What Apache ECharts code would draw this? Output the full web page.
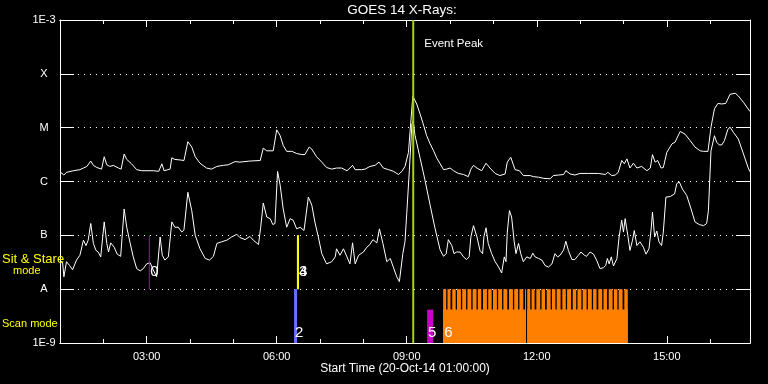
<!DOCTYPE html>
<html><head><meta charset="utf-8">
<script src="https://cdn.jsdelivr.net/npm/echarts@6/dist/echarts.min.js"></script>
<style>html,body{margin:0;padding:0;background:#000}#c{width:768px;height:384px}</style>
</head><body><div id="c"></div>
<script>
// ---- data (x in hours of 20-Oct-14, y in log10 flux W/m^2) ----
const yTickLabels = {'-3':'1E-3','-4':'X','-5':'M','-6':'C','-7':'B','-8':'A','-9':'1E-9'};
const xMajorHours = [3,6,9,12,15];
const xMinorHours = [2,4,5,7,8,10,11,13,14,16];
const xStartHour = 1, xEndHour = 16.92;

const longChannel = [[1.00,-5.82],[1.09,-5.88],[1.15,-5.83],[1.31,-5.80],[1.46,-5.78],[1.54,-5.75],[1.62,-5.72],[1.71,-5.62],[1.77,-5.70],[1.85,-5.74],[1.96,-5.77],[2.02,-5.54],[2.08,-5.69],[2.15,-5.72],[2.23,-5.70],[2.35,-5.75],[2.41,-5.77],[2.48,-5.49],[2.54,-5.59],[2.65,-5.67],[2.77,-5.78],[2.88,-5.80],[3.15,-5.80],[3.28,-5.81],[3.35,-5.67],[3.40,-5.80],[3.54,-5.77],[3.58,-5.56],[3.65,-5.59],[3.77,-5.60],[3.86,-5.61],[3.95,-5.26],[4.04,-5.36],[4.12,-5.54],[4.23,-5.66],[4.38,-5.75],[4.50,-5.77],[4.62,-5.72],[4.77,-5.70],[4.88,-5.69],
[5.04,-5.63],[5.15,-5.64],[5.38,-5.62],[5.62,-5.61],[5.69,-5.38],[5.77,-5.43],[5.92,-5.43],[6.00,-5.04],[6.08,-5.15],[6.15,-5.33],[6.23,-5.44],[6.35,-5.44],[6.46,-5.48],[6.58,-5.50],[6.65,-5.50],[6.75,-5.36],[6.81,-5.40],[6.92,-5.54],[7.04,-5.64],[7.15,-5.74],[7.27,-5.77],[7.38,-5.75],[7.50,-5.75],[7.62,-5.80],[7.69,-5.75],[7.75,-5.70],[7.81,-5.78],[7.96,-5.78],[8.04,-5.77],[8.15,-5.72],[8.27,-5.70],[8.36,-5.64],[8.46,-5.75],[8.58,-5.78],[8.69,-5.81],[8.81,-5.87],[8.89,-5.81],
[8.96,-5.72],[9.04,-5.46],[9.14,-4.41],[9.23,-4.56],[9.31,-4.75],[9.38,-4.93],[9.46,-5.15],[9.54,-5.30],[9.62,-5.43],[9.69,-5.56],[9.77,-5.67],[9.85,-5.78],[9.92,-5.77],[10.00,-5.75],[10.08,-5.80],[10.19,-5.85],[10.31,-5.87],[10.42,-5.91],[10.48,-5.77],[10.54,-5.70],[10.62,-5.75],[10.73,-5.80],[10.83,-5.66],[10.92,-5.75],[11.04,-5.85],[11.15,-5.89],[11.27,-5.86],[11.32,-5.64],[11.40,-5.55],[11.50,-5.78],[11.60,-5.80],[11.69,-5.89],[11.85,-5.89],[11.92,-5.91],[12.04,-5.92],[12.15,-5.94],[12.31,-5.95],[12.38,-5.89],[12.50,-5.88],[12.62,-5.87],[12.67,-5.80],[12.77,-5.86],[12.88,-5.88],
[13.00,-5.85],[13.19,-5.85],[13.42,-5.85],[13.58,-5.87],[13.64,-5.83],[13.73,-5.89],[13.81,-5.88],[13.88,-5.83],[13.96,-5.61],[14.02,-5.67],[14.08,-5.58],[14.15,-5.75],[14.23,-5.66],[14.31,-5.75],[14.42,-5.72],[14.54,-5.80],[14.62,-5.75],[14.67,-5.50],[14.73,-5.64],[14.79,-5.61],[14.87,-5.75],[14.92,-5.74],[15.00,-5.46],[15.12,-5.30],[15.19,-5.27],[15.31,-5.07],[15.42,-5.12],[15.54,-5.24],[15.65,-5.36],[15.77,-5.43],[15.85,-5.44],[15.95,-5.44],[16.02,-4.99],[16.10,-4.65],[16.18,-4.55],[16.27,-4.56],[16.36,-4.55],[16.46,-4.38],[16.58,-4.36],[16.65,-4.41],[16.77,-4.53],[16.92,-4.70]];

const shortChannel = [[1.00,-7.46],[1.06,-7.51],[1.09,-7.77],[1.15,-7.49],[1.22,-7.56],[1.29,-7.64],[1.38,-7.46],[1.46,-7.37],[1.54,-7.09],[1.60,-7.19],[1.65,-7.09],[1.71,-6.78],[1.77,-7.15],[1.83,-7.28],[1.88,-7.31],[1.94,-7.40],[2.02,-6.75],[2.08,-7.15],[2.12,-7.31],[2.17,-7.14],[2.25,-7.22],[2.32,-7.35],[2.40,-7.39],[2.48,-6.51],[2.54,-6.85],[2.62,-7.15],[2.69,-7.40],[2.77,-7.62],[2.85,-7.66],[2.92,-7.62],[3.00,-7.53],[3.08,-7.51],[3.15,-7.64],[3.23,-7.77],[3.31,-7.03],[3.36,-7.37],[3.42,-7.46],[3.50,-7.40],[3.58,-6.75],[3.65,-6.85],[3.73,-6.85],[3.81,-6.94],[3.86,-6.90],[3.95,-6.20],[4.04,-6.54],[4.12,-7.00],[4.23,-7.25],[4.35,-7.43],[4.45,-7.46],[4.54,-7.39],[4.62,-7.15],[4.73,-7.12],[4.85,-7.09],[4.96,-7.03],
[5.08,-6.98],[5.15,-7.04],[5.27,-7.08],[5.38,-7.02],[5.46,-7.09],[5.58,-7.17],[5.63,-6.85],[5.69,-6.40],[5.77,-6.66],[5.85,-6.69],[5.91,-6.80],[5.96,-6.78],[6.02,-5.81],[6.08,-6.07],[6.15,-6.51],[6.23,-6.85],[6.31,-6.69],[6.38,-6.72],[6.46,-6.88],[6.54,-6.85],[6.63,-6.91],[6.73,-6.29],[6.81,-6.44],[6.88,-6.75],[6.96,-7.03],[7.04,-7.34],[7.15,-7.53],[7.27,-7.49],[7.35,-7.40],[7.38,-7.25],[7.46,-7.37],[7.54,-7.25],[7.62,-7.40],[7.69,-7.53],[7.75,-7.14],[7.81,-7.53],[7.89,-7.37],[8.00,-7.31],[8.08,-7.22],[8.15,-7.17],[8.22,-7.08],[8.31,-7.14],[8.37,-6.88],[8.45,-7.15],[8.54,-7.49],[8.62,-7.43],[8.69,-7.59],[8.77,-7.77],[8.83,-7.86],[8.91,-7.34],[8.96,-7.11],
[9.00,-6.60],[9.06,-5.80],[9.12,-4.93],[9.15,-4.87],[9.19,-5.14],[9.31,-5.57],[9.42,-5.97],[9.54,-6.44],[9.65,-6.86],[9.77,-7.27],[9.85,-7.39],[9.91,-7.34],[9.96,-7.08],[10.04,-7.19],[10.09,-7.34],[10.15,-7.31],[10.23,-7.31],[10.31,-7.40],[10.38,-7.45],[10.44,-7.40],[10.48,-7.03],[10.54,-6.82],[10.62,-7.03],[10.69,-7.28],[10.75,-7.34],[10.78,-7.03],[10.83,-6.86],[10.88,-7.15],[10.96,-7.34],[11.04,-7.49],[11.12,-7.59],[11.19,-7.70],[11.25,-7.40],[11.29,-7.49],[11.32,-6.94],[11.37,-6.54],[11.42,-6.66],[11.48,-7.12],[11.52,-7.34],[11.58,-7.15],[11.63,-7.34],[11.69,-7.49],[11.77,-7.40],[11.85,-7.43],[11.91,-7.33],[11.96,-7.40],[12.04,-7.43],[12.12,-7.46],[12.19,-7.56],[12.27,-7.59],[12.35,-7.53],[12.42,-7.34],[12.48,-7.40],[12.54,-7.37],[12.62,-7.27],[12.67,-7.11],[12.73,-7.28],[12.81,-7.45],[12.88,-7.45],
[12.96,-7.37],[13.02,-7.31],[13.10,-7.37],[13.15,-7.39],[13.23,-7.31],[13.31,-7.35],[13.38,-7.46],[13.46,-7.62],[13.54,-7.60],[13.59,-7.56],[13.63,-7.43],[13.67,-7.53],[13.72,-7.40],[13.77,-7.57],[13.85,-7.43],[13.90,-7.03],[13.96,-6.72],[14.00,-6.94],[14.04,-6.69],[14.10,-7.00],[14.15,-7.28],[14.21,-7.09],[14.25,-6.91],[14.31,-7.19],[14.38,-7.12],[14.46,-7.22],[14.52,-7.35],[14.59,-7.25],[14.64,-6.88],[14.67,-6.57],[14.72,-7.03],[14.77,-6.92],[14.82,-7.12],[14.88,-7.19],[14.92,-6.94],[14.98,-6.29],[15.08,-6.28],[15.18,-6.23],[15.23,-6.04],[15.29,-6.01],[15.36,-6.14],[15.46,-6.26],[15.56,-6.51],[15.65,-6.75],[15.75,-6.80],[15.85,-6.82],[15.92,-6.78],[15.96,-6.54],[16.02,-5.43],[16.10,-5.15],[16.15,-5.27],[16.21,-5.32],[16.27,-5.32],[16.33,-5.24],[16.41,-5.03],[16.46,-4.99],[16.54,-5.09],[16.65,-5.21],[16.77,-5.49],[16.88,-5.75],[16.92,-5.82]];

const eventPeakHour = 9.15;
// sit & stare observations: [hour, bottom level, top level], ids
const sitStare = [[3.06,-8,-7],[6.49,-8,-7],[6.49,-8,-7]];
const sitStareIds = ['0','3','4'];
// scan mode observations: [start hour, end hour, top level], ids
const scanObs = [[6.40,6.47,-8],[9.47,9.61,-8.38],[9.84,11.75,-8.38],[11.78,14.10,-8.38]];
const scanIds = ['2','5','6',''];
const scanTeeth = [[9.84,9.91],[9.94,10.01],[10.05,10.13],[10.16,10.25],[10.28,10.37],[10.40,10.49],[10.52,10.61],[10.64,10.72],[10.76,10.85],[10.88,10.96],[10.99,11.08],[11.11,11.20],[11.23,11.32],[11.36,11.45],[11.48,11.57],[11.60,11.69],[11.73,11.75],[11.78,11.85],[11.88,11.95],[11.99,12.08],[12.11,12.19],[12.23,12.32],[12.35,12.43],[12.46,12.55],[12.59,12.67],[12.70,12.79],[12.83,12.91],[12.94,13.03],[13.06,13.15],[13.18,13.27],[13.30,13.38],[13.42,13.51],[13.54,13.62],[13.66,13.75],[13.78,13.86],[13.89,13.98],[14.02,14.10]];
const scanTeethTop = -8;

// ---- styles ----
const FONT = 'Liberation Sans';
const sitColors = ['#b000d0','#ffff00','#ffff00'];
const sitWidths = [1,2,2];
const scanColors = ['#6470ff','#c800c8','#ff8000','#ff8000'];
const ORANGE = '#ff8000';
const PEAK = '#a8d400';

const chart = echarts.init(document.getElementById('c'), null, {renderer:'canvas'});

function xAxisDef(pos, values, len, labels){
  return {
    type:'value', position:pos, min:xStartHour, max:xEndHour, gridIndex:0,
    axisLine:{show:true, lineStyle:{color:'#fff', width:1}},
    axisTick:{show:true, inside:true, length:len, customValues:values, lineStyle:{color:'#fff', width:1}},
    axisLabel:{show:labels, customValues:values, margin:8, color:'#fff', fontFamily:FONT, fontSize:11,
      formatter: v => (v<10?'0':'') + v + ':00'},
    splitLine:{show:false}
  };
}
function yAxisDef(pos, labels){
  return {
    type:'value', position:pos, min:-9, max:-3, interval:1,
    axisLine:{show:true, lineStyle:{color:'#fff', width:1}},
    axisTick:{show:true, inside:true, length:14, lineStyle:{color:'#fff', width:1}},
    axisLabel:{show:labels, margin:16, align:'center', color:'#fff', fontFamily:FONT, fontSize:11,
      showMinLabel:true, showMaxLabel:true, formatter: v => yTickLabels[String(v)]},
    splitLine:{show:labels, lineStyle:{color:'#fff', width:1, type:[1,5]}}
  };
}

function rectBetween(api, x0, x1, yTop, yBot, fill){
  const a = api.coord([x0, yTop]);
  const b = api.coord([x1, yBot]);
  return {type:'rect', shape:{x:a[0], y:a[1], width:Math.max(1, b[0]-a[0]), height:b[1]-a[1]}, style:{fill:fill}};
}

const option = {
  backgroundColor:'#000',
  animation:false,
  grid:{left:60, right:18, top:20, bottom:41},
  xAxis:[
    xAxisDef('bottom', xMajorHours, 7, true),
    xAxisDef('bottom', xMinorHours, 4, false),
    xAxisDef('top', xMajorHours, 7, false),
    xAxisDef('top', xMinorHours, 4, false)
  ],
  yAxis:[ yAxisDef('left', true), yAxisDef('right', false) ],
  graphic:[
    {type:'text', x:402, y:10, z:10, style:{text:'GOES 14 X-Rays:', fill:'#fff', font:'13.5px "'+FONT+'"', align:'center', verticalAlign:'middle'}},
    {type:'text', x:405, y:369, z:10, style:{text:'Start Time (20-Oct-14 01:00:00)', fill:'#fff', font:'12px "'+FONT+'"', align:'center', verticalAlign:'middle'}},
    {type:'text', x:2, y:259, z:10, style:{text:'Sit & Stare', fill:'#ffff00', font:'13px "'+FONT+'"', align:'left', verticalAlign:'middle'}},
    {type:'text', x:13, y:271, z:10, style:{text:'mode', fill:'#ffff00', font:'11px "'+FONT+'"', align:'left', verticalAlign:'middle'}},
    {type:'text', x:2, y:324, z:10, style:{text:'Scan mode', fill:'#ffff00', font:'11px "'+FONT+'"', align:'left', verticalAlign:'middle'}}
  ],
  series:[
    {type:'line', data:longChannel, showSymbol:false, symbol:'none', z:2,
      lineStyle:{color:'#fff', width:1}, silent:true},
    {type:'line', data:shortChannel, showSymbol:false, symbol:'none', z:2,
      lineStyle:{color:'#fff', width:1}, silent:true},
    {type:'custom', z:3, silent:true, data:scanTeeth, encode:{x:[0,1]},
      renderItem:(params, api) => rectBetween(api, api.value(0), api.value(1), scanTeethTop, -9, ORANGE)},
    {type:'custom', z:4, silent:true, data:scanObs, encode:{x:[0,1], y:2},
      renderItem:(params, api) => {
        const i = params.dataIndex;
        const r = rectBetween(api, api.value(0), api.value(1), api.value(2), -9, scanColors[i]);
        const base = api.coord([api.value(0), -9]);
        return {type:'group', children:[r,
          {type:'text', x:base[0]+1, y:base[1]-10, style:{text:scanIds[i], fill:'#fff', font:'15px "'+FONT+'"', align:'left', verticalAlign:'middle'}}]};
      }},
    {type:'custom', z:5, silent:true, data:sitStare, encode:{x:0, y:[1,2]},
      renderItem:(params, api) => {
        const i = params.dataIndex;
        const t = api.value(0);
        const p1 = api.coord([t, api.value(1)]);
        const p2 = api.coord([t, api.value(2)]);
        const w = sitWidths[i];
        return {type:'group', children:[
          {type:'rect', shape:{x:p1[0]-w/2, y:p2[1], width:w, height:p1[1]-p2[1]}, style:{fill:sitColors[i]}},
          {type:'text', x:p1[0]+1, y:p1[1]-17, style:{text:sitStareIds[i], fill:'#fff', font:'15px "'+FONT+'"', align:'left', verticalAlign:'middle'}}
        ]};
      }},
    {type:'custom', z:6, silent:true, data:[[eventPeakHour]], encode:{x:0},
      renderItem:(params, api) => {
        const t = api.value(0);
        const top = api.coord([t, -3]);
        const bot = api.coord([t, -9]);
        return {type:'group', children:[
          {type:'rect', shape:{x:top[0]-1, y:top[1], width:2, height:bot[1]-top[1]}, style:{fill:PEAK}},
          {type:'text', x:top[0]+11, y:top[1]+23.5, style:{text:'Event Peak', fill:'#fff', font:'11.5px "'+FONT+'"', align:'left', verticalAlign:'middle'}}
        ]};
      }}
  ]
};
chart.setOption(option);
</script>
</body></html>
